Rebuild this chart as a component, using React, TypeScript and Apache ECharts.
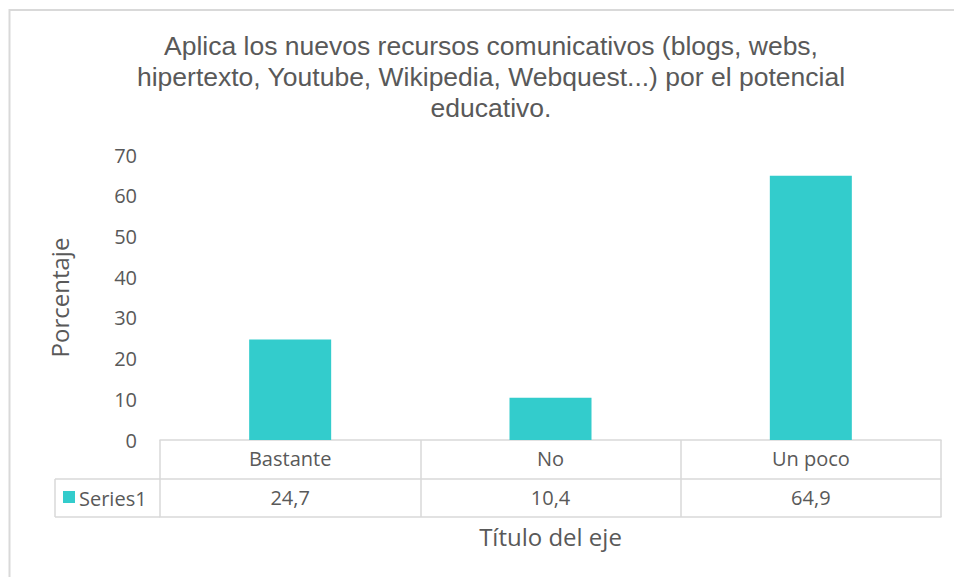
import React, { useEffect, useRef } from "react";
import * as echarts from "echarts";

const categories = ["Bastante", "No", "Un poco"];
const seriesName = "Series1";
const values = [24.7, 10.4, 64.9];
const titleLines = [
  "Aplica los nuevos recursos comunicativos (blogs, webs,",
  "hipertexto, Youtube, Wikipedia, Webquest...) por el potencial",
  "educativo.",
];
const yAxisName = "Porcentaje";
const xAxisName = "Título del eje";

const TEXT = "#595959";
const LINE = "#d9d9d9";
const BAR = "#33CCCC";
const FONT = "'Open Sans', 'Noto Sans', sans-serif";

export default function App() {
  const ref = useRef<HTMLDivElement>(null);
  useEffect(() => {
    if (!ref.current) return;
    const chart = echarts.init(ref.current, undefined, { renderer: "svg" });
    const valueLabels = values.map((v) => v.toFixed(1).replace(".", ","));
    chart.setOption({
      animation: false,
      backgroundColor: "#ffffff",
      grid: { left: 160, right: 13, top: 155, bottom: 137, containLabel: false },
      yAxis: {
        type: "value",
        min: 0,
        max: 70,
        interval: 10,
        name: yAxisName,
        nameLocation: "middle",
        nameGap: 89,
        nameRotate: 90,
        nameTextStyle: { color: TEXT, fontSize: 24, fontFamily: FONT },
        axisLine: { show: false },
        axisTick: { show: false },
        splitLine: { show: false },
        axisLabel: { color: TEXT, fontSize: 20, fontFamily: FONT, margin: 23 },
      },
      xAxis: [
        {
          type: "category",
          data: categories,
          position: "bottom",
          axisLine: { show: true, lineStyle: { color: LINE, width: 1.5 } },
          axisTick: { show: true, interval: 0, length: 77, lineStyle: { color: LINE, width: 1.5 } },
          axisLabel: { color: TEXT, fontSize: 20, fontFamily: FONT, margin: 8, interval: 0 },
        },
        {
          type: "category",
          data: valueLabels,
          position: "bottom",
          offset: 39,
          axisLine: { show: true, lineStyle: { color: LINE, width: 1.5 } },
          axisTick: { show: false },
          axisLabel: { color: TEXT, fontSize: 20, fontFamily: FONT, margin: 8, interval: 0 },
        },
        {
          type: "category",
          data: categories,
          position: "bottom",
          offset: 77,
          axisLine: { show: true, lineStyle: { color: LINE, width: 1.5 } },
          axisTick: { show: false },
          axisLabel: { show: false },
          name: xAxisName,
          nameLocation: "middle",
          nameGap: 7,
          nameTextStyle: { color: TEXT, fontSize: 24, fontFamily: FONT },
        },
      ],
      series: [
        {
          name: seriesName,
          type: "bar",
          data: values,
          xAxisIndex: 0,
          barWidth: "31.5%",
          itemStyle: { color: BAR },
        },
      ],
      graphic: [
        {
          type: "rect",
          shape: { x: 9.5, y: 10, width: 1100, height: 1000 },
          style: { fill: "none", stroke: LINE, lineWidth: 2 },
          silent: true,
        },
        {
          type: "text",
          x: 491,
          y: 30,
          style: {
            text: titleLines.join("\n"),
            fill: TEXT,
            fontSize: 26.5,
            fontFamily: "'Liberation Sans', Arial, sans-serif",
            lineHeight: 31,
            align: "center",
            verticalAlign: "top",
          },
        },
        { type: "line", shape: { x1: 55, y1: 479, x2: 160, y2: 479 }, style: { stroke: LINE, lineWidth: 1.5 } },
        { type: "line", shape: { x1: 55, y1: 517, x2: 160, y2: 517 }, style: { stroke: LINE, lineWidth: 1.5 } },
        { type: "line", shape: { x1: 55, y1: 479, x2: 55, y2: 517 }, style: { stroke: LINE, lineWidth: 1.5 } },
        { type: "rect", shape: { x: 63, y: 491, width: 12, height: 12 }, style: { fill: BAR } },
        {
          type: "text",
          x: 79,
          y: 498,
          style: { text: seriesName, fill: TEXT, fontSize: 20, fontFamily: FONT, verticalAlign: "middle" },
        },
      ],
    });
    return () => chart.dispose();
  }, []);
  return (
    <div
      ref={ref}
      style={{ position: "absolute", left: 0, top: 0, width: 954, height: 577 }}
    />
  );
}
